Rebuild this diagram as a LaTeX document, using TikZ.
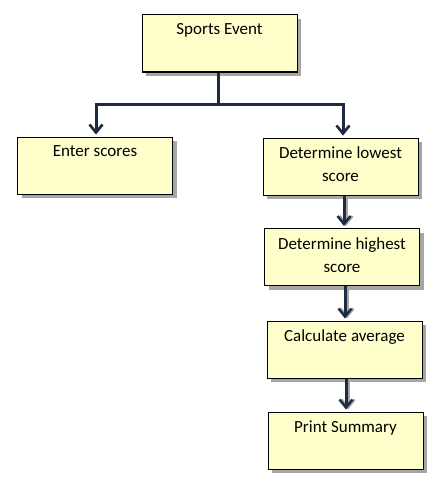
\documentclass[tikz,border=0pt]{standalone}
\usepackage{fontspec}
\setmainfont{Carlito}
\usetikzlibrary{arrows.meta,shadows}
\definecolor{boxfill}{HTML}{FFFFCC}
\definecolor{linecol}{HTML}{1C2B40}
\definecolor{shadowcol}{HTML}{A6A6A6}
\begin{document}
\begin{tikzpicture}[x=1pt,y=-1pt,
  box/.style={draw=black, line width=1pt, fill=boxfill, minimum width=155pt, minimum height=57pt, inner sep=0pt,
    drop shadow={shadow xshift=4pt, shadow yshift=-4pt, fill=shadowcol, opacity=1}},
  txt/.style={anchor=north, align=center, font=\fontsize{17}{23}\selectfont, inner sep=0pt, yshift=-9pt},
  tip/.style={-{Straight Barb[length=8pt,width=13pt,line width=2.5pt]}, shorten >=2pt},
  conn/.style={draw=linecol, line width=3pt, tip},
  sconn/.style={draw=shadowcol, line width=3pt}
]
\useasboundingbox (0,0) rectangle (440,487);
\node[box] (top) at (219.5,43.5) {};
\node[box] (enter) at (95,165.5) {};
\node[box] (low) at (340.5,166.5) {};
\node[box] (high) at (342,257) {};
\node[box] (avg) at (344.5,349.5) {};
\node[box] (prt) at (345.5,440.5) {};

\node[txt] (ttop) at (top.north) {Sports Event};
\node[txt] (tenter) at (enter.north) {Enter scores};
\node[txt] (tlow) at (low.north) {Determine lowest\\score};
\node[txt] (thigh) at (high.north) {Determine highest\\score};
\node[txt] (tavg) at (avg.north) {Calculate average};
\node[txt] (tprt) at (prt.north) {Print Summary};

\coordinate (bus) at (218,104);
\coordinate (busL) at (96,104);
\coordinate (busR) at (343,104);

% shadows of connectors
\begin{scope}[shift={(2,2)}]
\draw[sconn] (top.south -| bus) -- (bus);
\draw[sconn] (busL) -- (busR);
\draw[sconn, tip] (busL) -- (busL |- enter.north);
\draw[sconn, tip] (busR) -- (busR |- low.north);
\draw[sconn, tip] (low.south -| 344,0) -- (high.north -| 344,0);
\draw[sconn, tip] (high.south -| 345,0) -- (avg.north -| 345,0);
\draw[sconn, tip] (avg.south -| 346,0) -- (prt.north -| 346,0);
\end{scope}

\draw[draw=linecol, line width=3pt] (top.south -| bus) -- (bus);
\draw[conn, line join=miter] (bus) -- (busL) -- (busL |- enter.north);
\draw[conn, line join=miter] (bus) -- (busR) -- (busR |- low.north);
\draw[conn] (low.south -| 344,0) -- (high.north -| 344,0);
\draw[conn] (high.south -| 345,0) -- (avg.north -| 345,0);
\draw[conn] (avg.south -| 346,0) -- (prt.north -| 346,0);
\end{tikzpicture}
\end{document}
